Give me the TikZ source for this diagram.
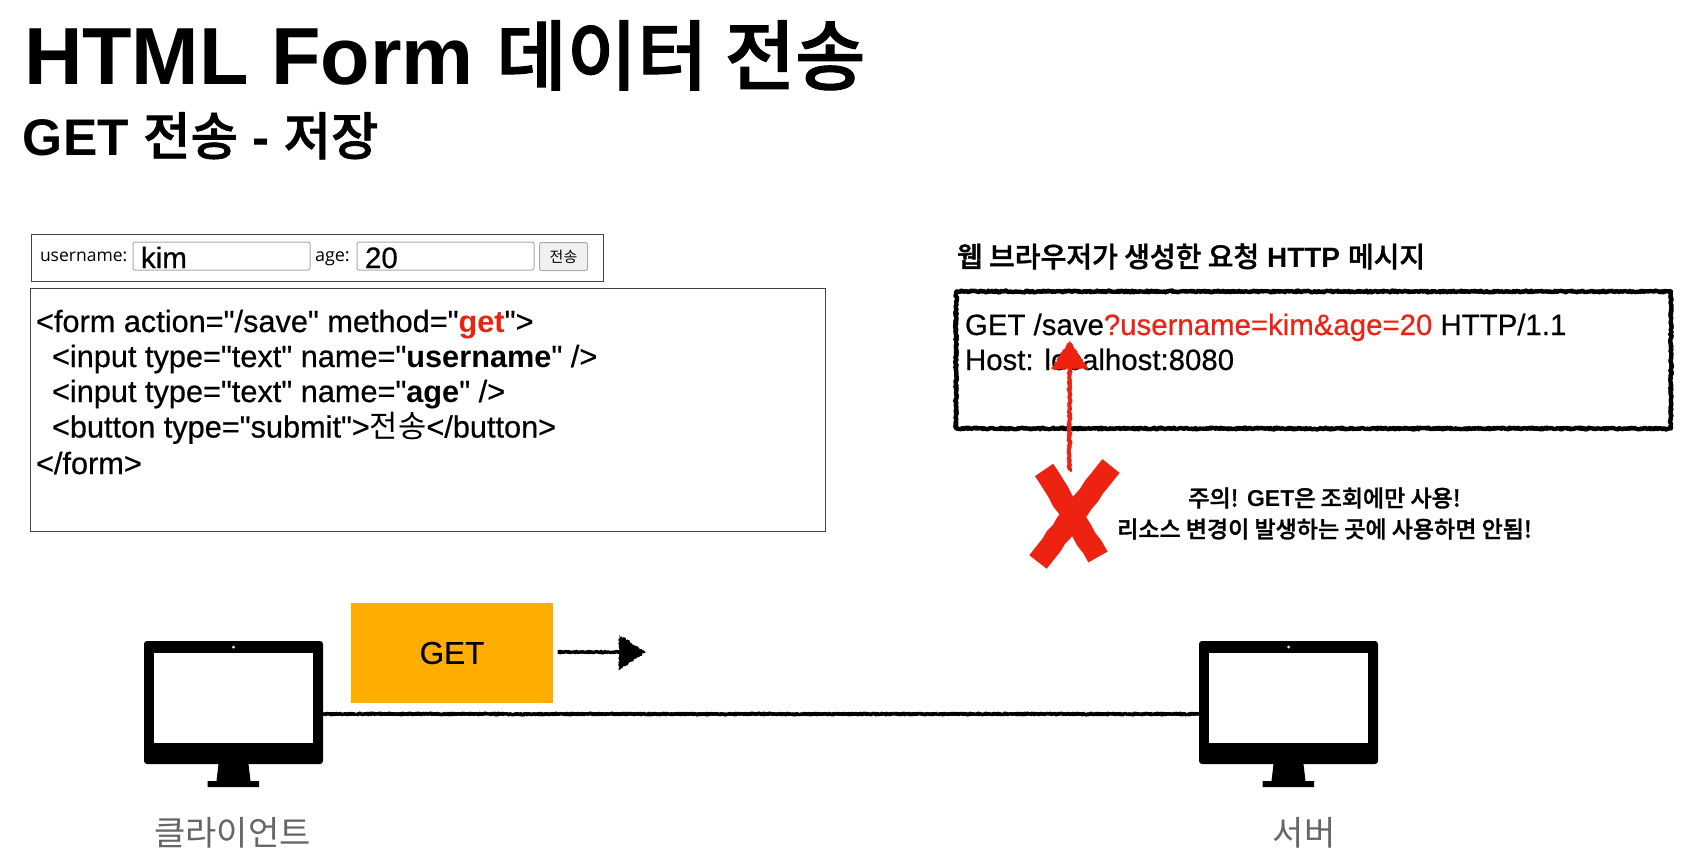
\documentclass[tikz,border=0pt]{standalone}
\usepackage{fontspec}
\setmainfont{Liberation Sans}
\newfontfamily\medfont{Liberation Sans}[FakeBold=0.5,BoldFeatures={FakeBold=0}]
\newfontfamily\kofont{Noto Sans CJK KR}[BoldFont={Noto Sans CJK KR Medium},BoldFeatures={FakeBold=1.4}]
\newfontfamily\uifont{Open Sans}
\newcommand{\K}[1]{{\kofont #1}}
\newcommand{\fs}[1]{\fontsize{#1}{#1}\selectfont}
\usetikzlibrary{decorations.pathmorphing}
\definecolor{alertred}{HTML}{EE2211}
\definecolor{getorange}{HTML}{FFAE00}
\definecolor{labelgray}{HTML}{666666}
\definecolor{boxgray}{HTML}{444444}
\definecolor{inputgray}{HTML}{AAAAAA}
\tikzset{
  txt/.style={inner sep=0pt,outer sep=0pt,anchor=base west},
  ctr/.style={inner sep=0pt,outer sep=0pt,anchor=center},
  outlinebox/.style={draw=boxgray,line width=0.9pt,fill=white,inner sep=0pt,outer sep=0pt,anchor=north west},
  inputbox/.style={draw=inputgray,line width=1pt,fill=white,rounded corners=2pt,inner sep=0pt,outer sep=0pt,anchor=north west,minimum width=177pt,minimum height=28pt},
  rough/.style={line join=round,decorate,decoration={random steps,segment length=1.2pt,amplitude=1pt}},
  chalk/.style={rough,draw=black,line width=2.8pt},
  redchalk/.style={rough,draw=alertred,line width=3.2pt},
  crossstroke/.style={draw=alertred,line width=22pt,line join=round,decorate,decoration={random steps,segment length=9pt,amplitude=0.8pt}},
  monitorbody/.style={fill=black,rounded corners=3pt,inner sep=0pt,outer sep=0pt,anchor=north west,minimum width=179pt,minimum height=123pt},
}
\begin{document}
\begin{tikzpicture}[x=1pt,y=-1pt]
\pgfmathsetseed{7}
\useasboundingbox (0,0) rectangle (1692,855);
\fill[white] (0,0) rectangle (1692,855);

% titles
\node[txt,font=\bfseries\fs{81}] (title) at (24,84) {HTML Form {\fs{76.5}\K{데이터 전송}}};
\node[txt,font=\bfseries\fs{51.5}] (subtitle) at (23,155) {GET \K{전송} - \K{저장}};

% rendered form
\node[outlinebox,minimum width=572pt,minimum height=47pt] (preview) at (31.5,234) {};
\node[txt,font=\uifont\fs{17.5}] (userlbl) at (40,261) {username:};
\node[inputbox] (userin) at (133,242) {};
\node[txt,font=\medfont\fs{29.5}] (kim) at (141,268) {kim};
\node[txt,font=\uifont\fs{18}] (agelbl) at (315,261) {age:};
\node[inputbox] (agein) at (357,242) {};
\node[txt,font=\medfont\fs{29.5}] (twenty) at (365,268) {20};
\node[draw=inputgray,line width=1pt,fill=black!6,rounded corners=2pt,inner sep=0pt,anchor=north west,minimum width=48pt,minimum height=28pt,font=\kofont\fs{15}] (sendbtn) at (539,242) {전송};

% form source
\node[outlinebox,minimum width=795pt,minimum height=243pt] (source) at (30.5,288) {};
\node[txt,font=\medfont\fs{30.7}] (s1) at (36,332) {<form action="/save" method="{\color{alertred}\bfseries get}">};
\node[txt,font=\medfont\fs{30.7}] (s2) at (52,367) {<input type="text" name="{\bfseries username}" />};
\node[txt,font=\medfont\fs{30.7}] (s3) at (52,402) {<input type="text" name="{\bfseries age}" />};
\node[txt,font=\medfont\fs{30.7}] (s4) at (52,437.5) {<button type="submit">\K{전송}</button>};
\node[txt,font=\medfont\fs{30.7}] (s5) at (36,474) {</form>};

% http message
\node[txt,font=\bfseries\fs{28}] (msgtitle) at (957,267) {\K{웹 브라우저가 생성한 요청} HTTP \K{메시지}};
\coordinate (m1) at (956,291.5);
\coordinate (m2) at (1671,291.5);
\coordinate (m3) at (1671,428.5);
\coordinate (m4) at (956,428.5);
\draw[chalk,line width=4.2pt] (m1) -- (m2) -- (m3) -- (m4) -- cycle;
\draw[chalk,line width=3pt] (m1) -- (m2) -- (m3) -- (m4) -- cycle;
\node[txt,font=\medfont\fs{29.4}] (h1) at (965,335) {GET /save{\color{alertred}?username=kim\&age=20} HTTP/1.1};
\node[txt,font=\medfont\fs{29.4}] (h2) at (965,370) {Host: localhost:8080};

% warning arrow and cross
\coordinate (arrowfoot) at (1069.5,471);
\coordinate (arrowneck) at (1069.5,365);
\coordinate (arrowtip) at (1069.5,340);
\draw[redchalk,line width=4pt] (arrowfoot) -- (arrowneck);
\fill[alertred,rough] (arrowtip) -- (1088,369) -- (1051,369) -- cycle;
\coordinate (xa1) at (1044,470);
\coordinate (xa2) at (1098,557);
\coordinate (xb1) at (1111,466);
\coordinate (xb2) at (1038,562);
\draw[crossstroke] (xa1) -- (xa2);
\draw[crossstroke] (xb1) -- (xb2);
\node[ctr,font=\bfseries\fs{23},align=center] (warn1) at (1324.5,498) {\K{주의!} GET\K{은 조회에만 사용!}};
\node[ctr,font=\bfseries\fs{23},align=center] (warn2) at (1324.5,529) {\K{리소스 변경이 발생하는 곳에 사용하면 안됨!}};

% client
\node[monitorbody] (client) at (144,641) {};
\node[fill=white,inner sep=0pt,anchor=north west,minimum width=159pt,minimum height=90pt] (clientscreen) at (154,653) {};
\node[circle,fill=white,inner sep=0pt,minimum size=3pt] (clientdot) at (233.5,647) {};
\fill[black] (218.5,764) -- (248.5,764) -- (250.5,781) -- (259,781) -- (259,787) -- (207.5,787) -- (207.5,781) -- (216.5,781) -- cycle;
\node[ctr,font=\kofont\fs{34},text=labelgray] (clientlbl) at (232.5,833) {클라이언트};

% server
\node[monitorbody] (server) at (1199,641) {};
\node[fill=white,inner sep=0pt,anchor=north west,minimum width=159pt,minimum height=90pt] (serverscreen) at (1209,653) {};
\node[circle,fill=white,inner sep=0pt,minimum size=3pt] (serverdot) at (1288.5,647) {};
\fill[black] (1273.5,764) -- (1303.5,764) -- (1305.5,781) -- (1314,781) -- (1314,787) -- (1262.5,787) -- (1262.5,781) -- (1271.5,781) -- cycle;
\node[ctr,font=\kofont\fs{34},text=labelgray] (serverlbl) at (1304,833) {서버};

% link
\draw[chalk] (client.east |- 0,714) -- (server.west |- 0,714);
\draw[chalk] (client.east |- 0,714) -- (server.west |- 0,714);
\draw[chalk] (client.east |- 0,714) -- (server.west |- 0,714);

% GET box
\node[fill=getorange,inner sep=0pt,outer sep=0pt,anchor=north west,minimum width=202pt,minimum height=100pt,font=\medfont\fs{31.5}] (getbox) at (351,603) {GET};
\coordinate (getneck) at (622,652);
\coordinate (gettip) at (646,652);
\draw[chalk] ([xshift=5pt]getbox.east |- getneck) -- (getneck);
\draw[chalk] ([xshift=5pt]getbox.east |- getneck) -- (getneck);
\fill[black,rough] (gettip) -- (619,635) -- (619,670) -- cycle;
\end{tikzpicture}
\end{document}
